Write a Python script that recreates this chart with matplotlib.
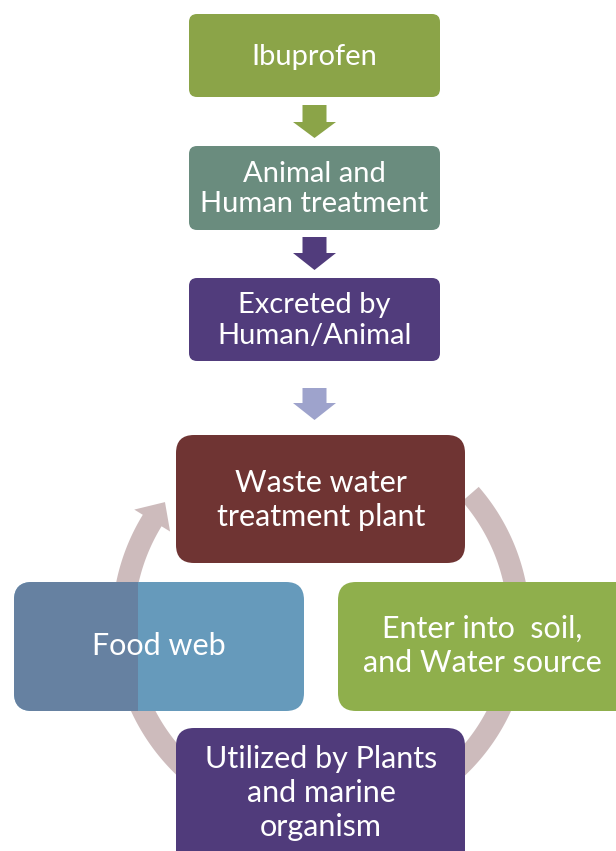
import numpy as np
import matplotlib
matplotlib.use("Agg")
import matplotlib.pyplot as plt
from matplotlib.patches import FancyBboxPatch, Polygon, Rectangle

# ---- content ----
top_labels = ["Ibuprofen", "Animal and\nHuman treatment", "Excreted by\nHuman/Animal"]
top_colors = ["#8BA448", "#6A8C7E", "#513C7C"]
arrow_colors = ["#8BA448", "#513C7C", "#9EA3CC"]
cycle_labels = ["Waste water\ntreatment plant", "Enter into  soil,\nand Water source",
                "Utilized by Plants\nand marine\norganism", "Food web"]
cycle_colors = ["#6F3433", "#8FAF4C", "#503B7B", "#669ABB"]
foodweb_shade = "#6681A1"
ring_color = "#CDBBBC"

FONT = ["Lato", "DejaVu Sans"]

W, H = 616, 851
fig = plt.figure(figsize=(W / 100, H / 100), dpi=100)
ax = fig.add_axes([0, 0, 1, 1])
ax.set_xlim(0, W)
ax.set_ylim(H, 0)
ax.axis("off")


def rbox(x0, y0, x1, y1, color, rad, z=3):
    p = FancyBboxPatch((x0 + rad, y0 + rad), (x1 - x0) - 2 * rad, (y1 - y0) - 2 * rad,
                       boxstyle=f"round,pad={rad},rounding_size={rad}",
                       fc=color, ec="none", zorder=z)
    ax.add_patch(p)
    return p


def label(x, y, s, size, ls):
    ax.text(x, y, s, ha="center", va="center", color="white", fontsize=size,
            family=FONT, linespacing=ls, zorder=10)


# ---- top chain ----
top_boxes = [(189, 14, 440, 97), (189, 146, 440, 230), (189, 278, 440, 361)]
for (x0, y0, x1, y1), c, t in zip(top_boxes, top_colors, top_labels):
    rbox(x0, y0, x1, y1, c, 8)
    label((x0 + x1) / 2, (y0 + y1) / 2 + 1, t, 21, 1.22)

# block arrows: (shaft top, head start, tip)
arrows = [(105, 122, 138), (237, 253, 270), (388, 403, 420)]
cx_a = 314.5
for (ys, yh, yt), c in zip(arrows, arrow_colors):
    sw, hw = 12, 21.5
    pts = [(cx_a - sw, ys), (cx_a + sw, ys), (cx_a + sw, yh), (cx_a + hw, yh),
           (cx_a, yt), (cx_a - hw, yh), (cx_a - sw, yh)]
    ax.add_patch(Polygon(pts, closed=True, fc=c, ec="none", zorder=3))

# ---- ring arrow ----
rc_x, rc_y = 321, 624
r_in, r_out = 187, 209


def pol(r, th):
    t = np.deg2rad(th)
    return rc_x + r * np.cos(t), rc_y - r * np.sin(t)


th = np.linspace(41, -212, 300)
outer = [pol(r_out, a) for a in th]
inner = [pol(r_in, a) for a in th[::-1]]
ax.add_patch(Polygon(outer + inner, closed=True, fc=ring_color, ec="none", zorder=1))
head = [pol(177, 148.5), pol(219, 148.5), pol(198, 142.0)]
ax.add_patch(Polygon(head, closed=True, fc=ring_color, ec="none", zorder=1))

# ---- cycle boxes ----
cyc_boxes = [(176, 435, 465, 563), (338, 582, 640, 711), (176, 728, 465, 880), (14, 582, 304, 711)]
for (x0, y0, x1, y1), c in zip(cyc_boxes, cycle_colors):
    p = rbox(x0, y0, x1, y1, c, 18)
    if c == cycle_colors[3]:
        r = Rectangle((x0, y0), 138 - x0, y1 - y0, fc=foodweb_shade, ec="none", zorder=3.5)
        ax.add_patch(r)
        r.set_clip_path(p)

label(321, 500, cycle_labels[0], 22, 1.27)
label(482, 646, cycle_labels[1], 22, 1.27)
label(321, 793, cycle_labels[2], 22, 1.27)
label(159, 646, cycle_labels[3], 22, 1.27)

fig.savefig("out.png", dpi=100, facecolor="white")
